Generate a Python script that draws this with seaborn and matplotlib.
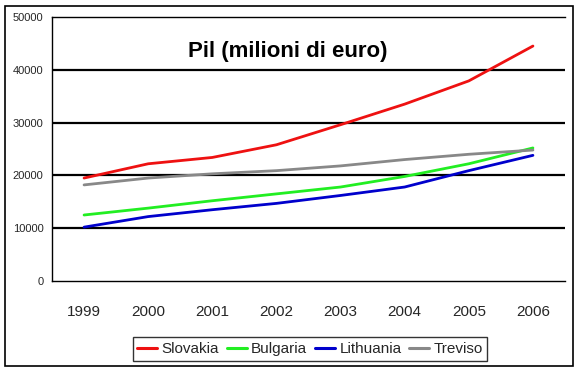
import numpy as np
import pandas as pd
import matplotlib
matplotlib.use("Agg")
import matplotlib.pyplot as plt
import seaborn as sns
from matplotlib.patches import Rectangle

years = ["1999", "2000", "2001", "2002", "2003", "2004", "2005", "2006"]
slovakia = [19500, 22200, 23400, 25800, 29600, 33500, 37900, 44500]
bulgaria = [12500, 13800, 15200, 16500, 17800, 19800, 22200, 25200]
lithuania = [10200, 12200, 13500, 14700, 16200, 17800, 20900, 23800]
treviso = [18200, 19500, 20300, 20900, 21800, 23000, 24000, 24800]
series_names = ["Slovakia", "Bulgaria", "Lithuania", "Treviso"]
colors = {"Slovakia": "#EE1111", "Bulgaria": "#22EE22", "Lithuania": "#0000CC", "Treviso": "#888888"}
title = "Pil (milioni di euro)"

sns.set_style("white")
plt.rcParams["font.family"] = ["Liberation Sans", "DejaVu Sans"]

rows = []
for name, vals in zip(series_names, [slovakia, bulgaria, lithuania, treviso]):
    for i, v in enumerate(vals):
        rows.append({"pos": i, "year": years[i], "value": v, "series": name})
df = pd.DataFrame(rows)

W, H = 578, 372
fig = plt.figure(figsize=(W / 100, H / 100), dpi=100)
fig.patch.set_facecolor("white")
ax = fig.add_axes([52 / W, 1 - 281 / H, (565 - 52) / W, (281 - 17) / H])

sns.lineplot(data=df, x="pos", y="value", hue="series", hue_order=series_names,
             palette=colors, linewidth=2.0, ax=ax, sort=False, legend=True)

ax.set_xlim(-0.5, 7.5)
ax.set_ylim(0, 50000)
ax.set_yticks(np.arange(0, 50001, 10000))
ax.set_yticklabels([str(v) for v in range(0, 50001, 10000)], fontsize=8)
ax.set_xticks(range(len(years)))
ax.set_xticklabels(years, fontsize=11)
ax.set_xticks(np.arange(-0.5, 8, 1), minor=True)
ax.tick_params(axis="x", which="major", length=0, pad=17)
ax.tick_params(axis="x", which="minor", length=4, width=1.2, direction="out", color="black")
ax.tick_params(axis="y", which="major", length=3, width=1, direction="out", color="black", pad=3)
ax.set_xlabel("")
ax.set_ylabel("")

for v in range(10000, 50000, 10000):
    ax.axhline(v, color="black", linewidth=1.6, zorder=0)

for s in ["left", "bottom"]:
    ax.spines[s].set_color("black")
    ax.spines[s].set_linewidth(1.0)
ax.spines["top"].set_color("black")
ax.spines["top"].set_linewidth(1.0)
ax.spines["right"].set_visible(False)

ax.text(0.46, 0.87, title, transform=ax.transAxes, ha="center", va="center",
        fontsize=16, fontweight="bold", color="black")

handles, labels = ax.get_legend_handles_labels()
ax.legend_.remove()
leg = fig.legend(handles, labels, loc="center", bbox_to_anchor=(310 / W, 1 - 349 / H),
                 ncol=4, fontsize=11, frameon=True, fancybox=False, edgecolor="black",
                 handlelength=1.3, handletextpad=0.3, columnspacing=0.5,
                 borderpad=0.3, borderaxespad=0)
leg.get_frame().set_linewidth(1.0)
for lh in leg.get_lines():
    lh.set_linewidth(2.2)

fig.add_artist(Rectangle((5 / W, 1 - 366 / H), (573 - 5) / W, (366 - 6) / H,
                         transform=fig.transFigure, fill=False, edgecolor="black",
                         linewidth=1.2))

fig.savefig("out.png", dpi=100)
